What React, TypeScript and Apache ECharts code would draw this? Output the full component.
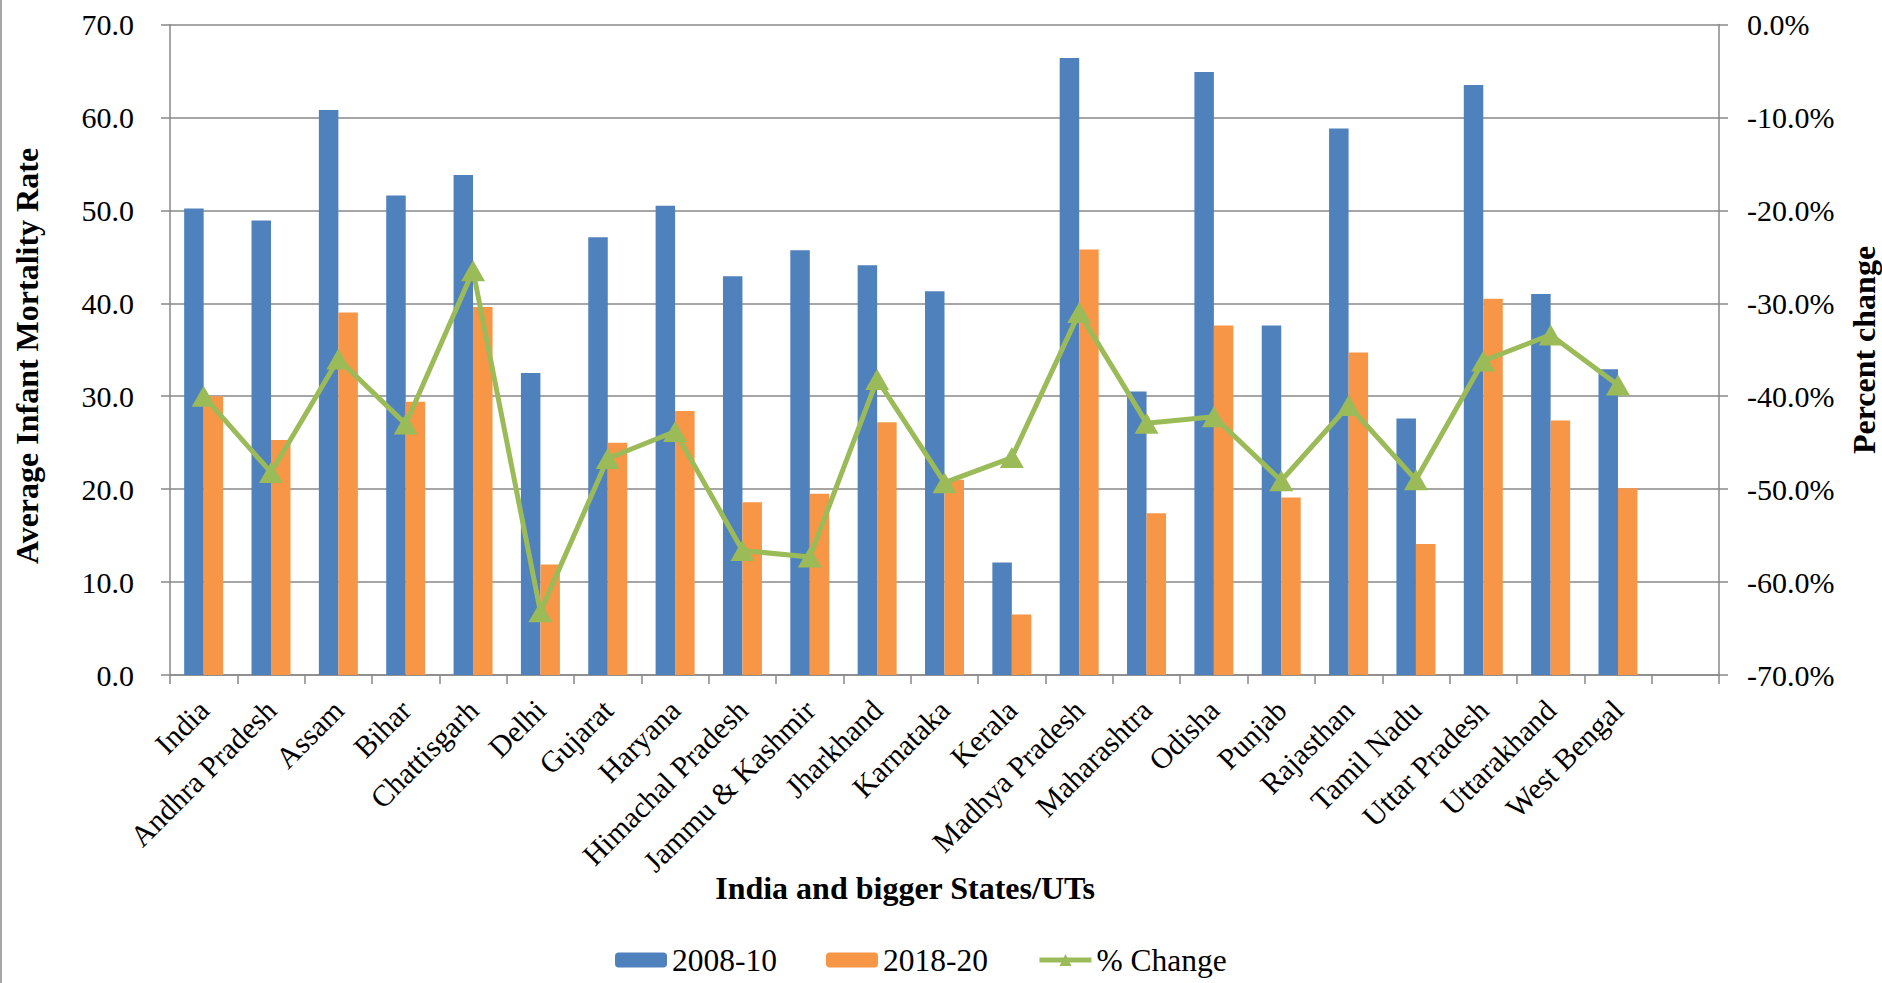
import React, { useEffect, useRef } from "react";
import * as echarts from "echarts";

const categories = [
  "India", "Andhra Pradesh", "Assam", "Bihar", "Chattisgarh", "Delhi", "Gujarat", "Haryana",
  "Himachal Pradesh", "Jammu & Kashmir", "Jharkhand", "Karnataka", "Kerala", "Madhya Pradesh",
  "Maharashtra", "Odisha", "Punjab", "Rajasthan", "Tamil Nadu", "Uttar Pradesh", "Uttarakhand",
  "West Bengal", "",
];
const imr2008 = [50.2, 48.9, 60.8, 51.6, 53.8, 32.5, 47.1, 50.5, 42.9, 45.7, 44.1, 41.3, 12.1, 66.4, 30.5, 64.9, 37.6, 58.8, 27.6, 63.5, 41.0, 32.9, null];
const imr2018 = [30.0, 25.3, 39.0, 29.4, 39.6, 11.9, 25.0, 28.4, 18.6, 19.5, 27.2, 21.0, 6.5, 45.8, 17.4, 37.6, 19.1, 34.7, 14.1, 40.5, 27.4, 20.1, null];
const pctChange = [-40.0, -48.2, -36.0, -43.0, -26.5, -63.2, -46.7, -43.8, -56.6, -57.3, -38.2, -49.3, -46.6, -31.0, -42.9, -42.2, -49.1, -41.0, -49.0, -36.2, -33.4, -38.8, null];

const FONT = "Liberation Serif";
const GRID_COLOR = "#898989";

export default function App() {
  const ref = useRef<HTMLDivElement>(null);
  useEffect(() => {
    const chart = echarts.init(ref.current!, null, { renderer: "svg" });
    chart.setOption({
      animation: false,
      backgroundColor: "#ffffff",
      textStyle: { fontFamily: FONT },
      grid: { left: 170, right: 163, top: 24.5, bottom: 308, containLabel: false },
      legend: {
        left: 610,
        top: 939,
        itemWidth: 52,
        itemHeight: 15,
        itemGap: 49,
        textStyle: { fontFamily: FONT, fontSize: 31.5, lineHeight: 32, color: "#000" },
        lineStyle: { width: 5 },
        data: ["2008-10", "2018-20", "% Change"],
      },
      xAxis: {
        type: "category",
        data: categories,
        axisLine: { lineStyle: { color: GRID_COLOR, width: 1.5 } },
        axisTick: { show: true, length: 9, alignWithLabel: false, lineStyle: { color: GRID_COLOR, width: 1.5 } },
        axisLabel: { rotate: 45, margin: 30, interval: 0, fontFamily: FONT, fontSize: 30, color: "#000" },
      },
      yAxis: [
        {
          type: "value",
          min: 0,
          max: 70,
          interval: 10,
          axisLine: { show: true, lineStyle: { color: GRID_COLOR, width: 1.5 } },
          axisTick: { show: true, length: 9, lineStyle: { color: GRID_COLOR, width: 1.5 } },
          splitLine: { show: true, lineStyle: { color: GRID_COLOR, width: 1.5 } },
          axisLabel: { margin: 36, fontFamily: FONT, fontSize: 30, color: "#000", formatter: (v: number) => v.toFixed(1) },
        },
        {
          type: "value",
          min: -70,
          max: 0,
          interval: 10,
          position: "right",
          axisLine: { show: true, lineStyle: { color: GRID_COLOR, width: 1.5 } },
          axisTick: { show: true, length: 9, lineStyle: { color: GRID_COLOR, width: 1.5 } },
          splitLine: { show: false },
          axisLabel: { margin: 28, fontFamily: FONT, fontSize: 30, color: "#000", formatter: (v: number) => v.toFixed(1) + "%" },
        },
      ],
      series: [
        {
          name: "2008-10",
          type: "bar",
          data: imr2008,
          barWidth: 19.5,
          barGap: "0%",
          itemStyle: { color: "#4F81BD" },
        },
        {
          name: "2018-20",
          type: "bar",
          data: imr2018,
          barWidth: 19.5,
          barGap: "0%",
          itemStyle: { color: "#F79646" },
        },
        {
          name: "% Change",
          type: "line",
          yAxisIndex: 1,
          data: pctChange,
          symbol: "triangle",
          symbolSize: [24, 21],
          lineStyle: { color: "#9BBB59", width: 5 },
          itemStyle: { color: "#9BBB59" },
          z: 5,
        },
      ],
      graphic: [
        { type: "line", shape: { x1: 1, y1: 0, x2: 1, y2: 983 }, style: { stroke: GRID_COLOR, lineWidth: 1.5 } },
        {
          type: "text",
          x: 27,
          y: 356,
          rotation: Math.PI / 2,
          style: { text: "Average Infant Mortality Rate", fontFamily: FONT, fontSize: 32, fontWeight: "bold", fill: "#000", align: "center", verticalAlign: "middle" },
        },
        {
          type: "text",
          x: 1864,
          y: 350,
          rotation: Math.PI / 2,
          style: { text: "Percent change", fontFamily: FONT, fontSize: 32, fontWeight: "bold", fill: "#000", align: "center", verticalAlign: "middle" },
        },
        {
          type: "text",
          x: 905,
          y: 888,
          style: { text: "India and bigger States/UTs", fontFamily: FONT, fontSize: 32, fontWeight: "bold", fill: "#000", align: "center", verticalAlign: "middle" },
        },
      ],
    });
    return () => chart.dispose();
  }, []);
  return <div ref={ref} style={{ position: "fixed", left: 0, top: 0, width: 1882, height: 983 }} />;
}
